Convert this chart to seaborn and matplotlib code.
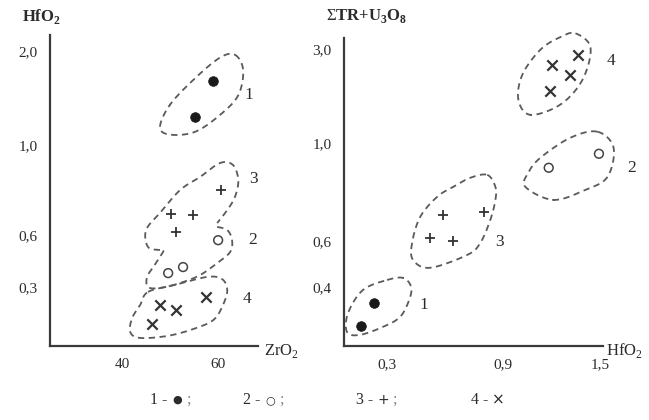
import numpy as np
import matplotlib
matplotlib.use("Agg")
import matplotlib.pyplot as plt
import seaborn as sns

# ---------- data: left panel (ZrO2 vs HfO2) ----------
zr_1 = [59.0, 55.2]
hf_1 = [1.68, 1.30]
zr_2 = [60.0, 49.6, 52.7]
hf_2 = [0.57, 0.38, 0.415]
zr_3 = [60.6, 50.2, 54.8, 51.3]
hf_3 = [0.80, 0.693, 0.689, 0.613]
zr_4 = [47.9, 51.3, 57.5, 46.3]
hf_4 = [0.208, 0.183, 0.249, 0.112]

# ---------- data: right panel (HfO2 vs sum TR+U3O8) ----------
hfo_1 = [0.24, 0.18]
tr_1 = [0.332, 0.235]
hfo_2 = [1.49, 1.18]
tr_2 = [0.955, 0.898]
hfo_3 = [0.59, 0.80, 0.52, 0.64]
tr_3 = [0.706, 0.718, 0.612, 0.60]
hfo_4 = [1.36, 1.20, 1.31, 1.19]
tr_4 = [2.89, 2.66, 2.46, 2.12]

# tick values / labels
left_xticks = [40, 60]
left_xlabels = ["40", "60"]
left_yticks = [0.3, 0.6, 1.0, 2.0]
left_ylabels = ["0,3", "0,6", "1,0", "2,0"]
right_xticks = [0.3, 0.9, 1.5]
right_xlabels = ["0,3", "0,9", "1,5"]
right_yticks = [0.4, 0.6, 1.0, 3.0]
right_ylabels = ["0,4", "0,6", "1,0", "3,0"]

# legend entries (number, marker glyph)
legend_nums = ["1", "2", "3", "4"]
legend_marks = ["\u25cf", "\u25cb", "+", "\u00d7"]

# group enclosures (dashed outlines), data units
l_out1 = ([63.5, 65.2, 64.2, 60.4, 55.2, 50.0, 47.9, 50.0, 55.2, 60.4],
          [1.96, 1.80, 1.53, 1.32, 1.14, 1.11, 1.19, 1.43, 1.71, 1.93])
l_out3 = ([47.9, 45.4, 45.0, 47.9, 52.1, 56.25, 60.4, 63.1, 64.2, 63.5, 61.9, 59.8],
          [0.513, 0.531, 0.622, 0.698, 0.80, 0.858, 0.92, 0.911, 0.844, 0.769, 0.711, 0.653])
l_out2 = ([59.8, 61.9, 62.9, 62.5, 59.8, 56.25, 52.1, 47.9, 45.4, 45.2, 46.5, 47.9, 48.75],
          [0.636, 0.622, 0.571, 0.502, 0.438, 0.369, 0.323, 0.295, 0.30, 0.358, 0.415, 0.473, 0.513])
l_out4 = ([45.4, 51.0, 57.7, 60.8, 61.9, 61.0, 59.0, 54.8, 49.4, 43.75, 41.7, 42.1, 43.75],
          [0.275, 0.312, 0.358, 0.346, 0.285, 0.208, 0.132, 0.086, 0.051, 0.041, 0.071, 0.142, 0.208])
r_out4 = ([1.345, 1.438, 1.388, 1.252, 1.067, 0.993, 1.017, 1.129, 1.252],
          [3.35, 3.04, 2.35, 1.82, 1.60, 1.92, 2.46, 3.0, 3.27])
r_out2 = ([1.481, 1.58, 1.543, 1.407, 1.209, 1.036, 1.054, 1.129, 1.314],
          [1.237, 0.98, 0.861, 0.808, 0.767, 0.82, 0.878, 0.939, 1.108])
r_out3 = ([0.817, 0.859, 0.859, 0.833, 0.781, 0.714, 0.522, 0.434, 0.429, 0.471, 0.559, 0.641, 0.729],
          [0.869, 0.82, 0.767, 0.686, 0.591, 0.539, 0.483, 0.517, 0.591, 0.698, 0.78, 0.82, 0.857])
r_out1 = ([0.30, 0.383, 0.424, 0.414, 0.367, 0.281, 0.174, 0.114, 0.119, 0.188],
          [0.43, 0.439, 0.40, 0.345, 0.273, 0.231, 0.197, 0.209, 0.29, 0.387])

sns.set_style("white")
plt.rcParams["font.family"] = ["Liberation Serif", "DejaVu Sans"]
plt.rcParams["mathtext.fontset"] = "custom"
plt.rcParams["mathtext.rm"] = "Liberation Serif"

INK = "#2b2b2b"
LINE = "#5a5a5a"


def piecewise(vals, pos):
    # schematic (non-uniform) axis, like the hand drawn original
    f = lambda v: np.interp(v, vals, pos)
    g = lambda p: np.interp(p, pos, vals)
    return f, g


def catmull(ax, xs, ys, closed=True, n=18):
    P = ax.transData.transform(np.column_stack([xs, ys]))
    if closed:
        P = np.vstack([P[-1], P, P[0], P[1]])
    else:
        P = np.vstack([P[0], P, P[-1]])
    t = np.linspace(0, 1, n)[:, None]
    segs = []
    for i in range(1, len(P) - 2):
        p0, p1, p2, p3 = P[i - 1], P[i], P[i + 1], P[i + 2]
        segs.append(0.5 * (2 * p1 + (-p0 + p2) * t
                           + (2 * p0 - 5 * p1 + 4 * p2 - p3) * t ** 2
                           + (-p0 + 3 * p1 - 3 * p2 + p3) * t ** 3))
    return ax.transData.inverted().transform(np.vstack(segs))


def dashed(ax, outline, closed=True):
    pts = catmull(ax, outline[0], outline[1], closed)
    ax.plot(pts[:, 0], pts[:, 1], ls=(0, (3.5, 2.5)), color=LINE, lw=1.3, clip_on=False)


def points(ax, x1, y1, x2, y2, x3, y3, x4, y4):
    sns.scatterplot(x=x1, y=y1, ax=ax, marker="o", s=48, color="#1a1a1a", edgecolor="#1a1a1a", clip_on=False)
    sns.scatterplot(x=x2, y=y2, ax=ax, marker="o", s=40, facecolor="none", edgecolor="#444444",
                    linewidth=1.1, clip_on=False)
    sns.scatterplot(x=x3, y=y3, ax=ax, marker="+", s=50, color="#333333", linewidth=1.3, clip_on=False)
    sns.scatterplot(x=x4, y=y4, ax=ax, marker="x", s=55, color="#333333", linewidth=1.6, clip_on=False)


def style(ax):
    sns.despine(ax=ax)
    for s in ["left", "bottom"]:
        ax.spines[s].set_color("#3a3a3a")
        ax.spines[s].set_linewidth(1.6)
    ax.minorticks_off()
    ax.tick_params(direction="in", length=4, width=1, color="#777777", labelcolor=INK, labelsize=11, pad=9)
    ax.set_xlabel("")
    ax.set_ylabel("")


fig = plt.figure(figsize=(6.49, 4.2), dpi=100)
fig.patch.set_facecolor("white")

# ---------------- left ----------------
axl = fig.add_axes([50 / 649, 74 / 420, 208 / 649, 311 / 420])
fy, gy = piecewise([-0.3, 0.0, 0.3, 0.6, 1.0, 2.0, 2.2, 2.6],
                   [-59, 0, 59, 111, 201, 295, 313.8, 351.4])
axl.set_yscale("function", functions=(fy, gy))
axl.set_xlim(25, 68.3)
axl.set_ylim(0, 2.17)
axl.set_xticks(left_xticks, left_xlabels)
axl.set_yticks(left_yticks, left_ylabels)
style(axl)
for o, c in [(l_out1, True), (l_out3, False), (l_out2, False), (l_out4, True)]:
    dashed(axl, o, c)
points(axl, zr_1, hf_1, zr_2, hf_2, zr_3, hf_3, zr_4, hf_4)
for lab, px, py in [("1", 249, 95), ("3", 253, 179), ("2", 253, 240), ("4", 247, 299)]:
    fig.text(px / 649, 1 - py / 420, lab, ha="center", va="center", fontsize=12.5, color=INK)

# ---------------- right ----------------
axr = fig.add_axes([344 / 649, 74 / 420, 259 / 649, 308 / 420])
fx2, gx2 = piecewise([0.0, 0.1, 0.3, 0.9, 1.5, 2.0], [-21.5, 0, 43, 159, 256, 337])
fy2, gy2 = piecewise([0.0, 0.15, 0.4, 0.6, 1.0, 3.0, 3.25, 4.0],
                     [-35.4, 0, 59, 105, 203, 296, 307.6, 342.5])
axr.set_xscale("function", functions=(fx2, gx2))
axr.set_yscale("function", functions=(fy2, gy2))
axr.set_xlim(0.1, 1.515)
axr.set_ylim(0.15, 3.25)
axr.set_xticks(right_xticks, right_xlabels)
axr.set_yticks(right_yticks, right_ylabels)
style(axr)
for o in [r_out4, r_out2, r_out3, r_out1]:
    dashed(axr, o, True)
points(axr, hfo_1, tr_1, hfo_2, tr_2, hfo_3, tr_3, hfo_4, tr_4)
for lab, px, py in [("4", 611, 61), ("2", 632, 168), ("3", 500, 242), ("1", 424, 305)]:
    fig.text(px / 649, 1 - py / 420, lab, ha="center", va="center", fontsize=12.5, color=INK)

# axis titles
fig.text(22 / 649, 1 - 16 / 420, r"HfO$_\mathregular{2}$", ha="left", va="center",
         fontsize=12, fontweight="bold", color=INK)
fig.text(326 / 649, 1 - 16 / 420, r"$\Sigma$TR+U$_\mathregular{3}$O$_\mathregular{8}$", ha="left",
         va="center", fontsize=12, fontweight="bold", color=INK)
fig.text(264 / 649, 1 - 351 / 420, r"ZrO$_\mathregular{2}$", ha="left", va="center", fontsize=12, color=INK)
fig.text(606 / 649, 1 - 350 / 420, r"HfO$_\mathregular{2}$", ha="left", va="center", fontsize=12, color=INK)

# legend line at the bottom
leg_x = [150, 243, 356, 471]
mark_size = [8, 8, 10, 11]
for i, (num, mark) in enumerate(zip(legend_nums, legend_marks)):
    x0 = leg_x[i]
    fig.text(x0 / 649, 1 - 400 / 420, num + " -", ha="left", va="center", fontsize=11.5, color=INK)
    fig.text((x0 + 27) / 649, 1 - 400 / 420, mark, ha="center", va="center", fontsize=mark_size[i],
             color=INK, family="DejaVu Sans")
    if i < 3:
        fig.text((x0 + 36) / 649, 1 - 400 / 420, ";", ha="left", va="center", fontsize=11.5, color="#888888")

fig.savefig("out.png", dpi=100, facecolor="white")
